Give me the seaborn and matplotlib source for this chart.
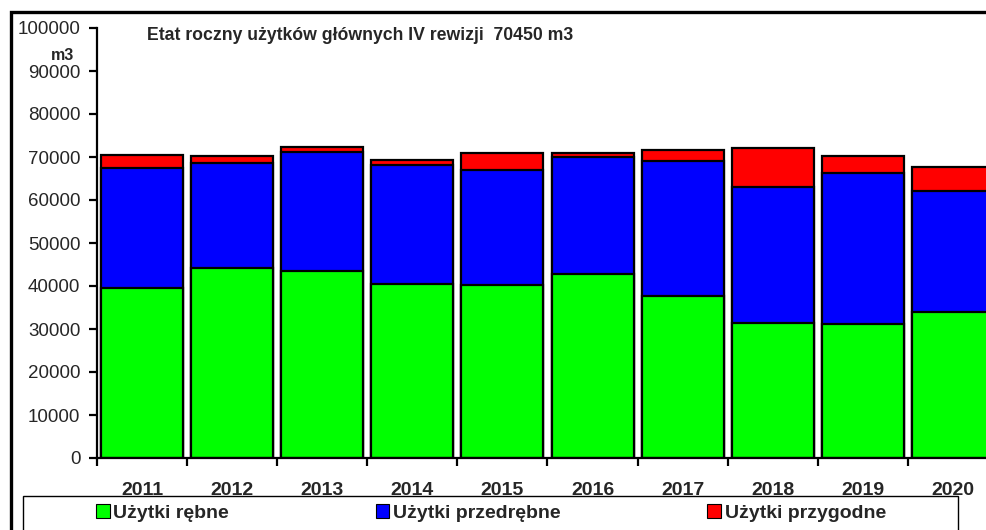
import numpy as np
import pandas as pd
import matplotlib
matplotlib.use("Agg")
import matplotlib.pyplot as plt
import seaborn as sns
from matplotlib.patches import Patch, Rectangle

# Annual harvest volumes (m3) per year, split by category
years = ["2011", "2012", "2013", "2014", "2015", "2016", "2017", "2018", "2019", "2020"]
rebne = [39450, 44100, 43550, 40400, 40150, 42700, 37650, 31300, 31150, 34000]
przedrebne = [27900, 24500, 27550, 27800, 26850, 27200, 31400, 31650, 35100, 28000]
przygodne = [3050, 1550, 1150, 1150, 4000, 1100, 2500, 9200, 3950, 5700]
etat = 70450

series_names = ["Użytki rębne", "Użytki przedrębne", "Użytki przygodne"]
colors = ["#00ff00", "#0000ff", "#ff0000"]
y_ticks = list(range(0, 100001, 10000))

sns.set_theme(style="white")
plt.rcParams["font.family"] = ["Liberation Sans", "DejaVu Sans"]

W, H = 987, 530
fig = plt.figure(figsize=(W / 100, H / 100), dpi=100)


def fx(px):
    return px / W


def fy(py):
    return 1 - py / H


ax = fig.add_axes([fx(97), fy(458), 901 / W, 430 / H])

df = pd.DataFrame({"rok": years, "rebne": rebne, "przed": przedrebne, "przyg": przygodne})
df["top_przed"] = df["rebne"] + df["przed"]
df["top_przyg"] = df["top_przed"] + df["przyg"]

# stacked bars: draw cumulative totals back to front
for col, c in [("top_przyg", colors[2]), ("top_przed", colors[1]), ("rebne", colors[0])]:
    sns.barplot(data=df, x="rok", y=col, color=c, saturation=1, width=0.91,
                edgecolor="black", linewidth=1.6, errorbar=None, ax=ax, zorder=2)

ax.set_xlabel("")
ax.set_ylabel("")
ax.set_ylim(0, 100000)
ax.set_xlim(-0.5, len(years) - 0.5)
ax.set_yticks(y_ticks)
ax.set_yticklabels([str(v) for v in y_ticks], fontsize=13.5)
ax.tick_params(axis="y", direction="out", length=6, width=1.6, color="black", pad=6, left=True)

# boundary ticks between categories, labels at category centres
ax.set_xticks(np.arange(-0.5, len(years), 1.0))
ax.set_xticklabels([""] * (len(years) + 1))
ax.set_xticks(np.arange(len(years)), minor=True)
ax.set_xticklabels(years, minor=True, fontsize=14, fontweight="bold")
ax.tick_params(axis="x", which="major", direction="out", length=6, width=1.6, color="black", bottom=True)
ax.tick_params(axis="x", which="minor", length=0, pad=17.5)

for side in ["top", "right"]:
    ax.spines[side].set_visible(False)
for side in ["left", "bottom"]:
    ax.spines[side].set_color("black")
    ax.spines[side].set_linewidth(1.6)

fig.text(fx(63), fy(56), "m3", ha="center", va="center", fontsize=11.5, fontweight="bold")
fig.text(fx(147), fy(35), f"Etat roczny użytków głównych IV rewizji  {etat} m3",
         ha="left", va="center", fontsize=12.7, fontweight="bold")

# outer chart frame
fig.patches.append(Rectangle((fx(11), fy(560)), (1020 - 11) / W, fy(12) - fy(560),
                             transform=fig.transFigure, fill=False, edgecolor="black",
                             linewidth=2.4, zorder=1))
# legend box
fig.patches.append(Rectangle((fx(23), fy(560)), (958 - 23) / W, fy(496) - fy(560),
                             transform=fig.transFigure, facecolor="white", edgecolor="black",
                             linewidth=1.0, zorder=2))

handles = [Patch(facecolor=c, edgecolor="black", linewidth=0.8) for c in colors]
fig.legend(handles, series_names, loc="center", ncol=3, mode="expand",
           bbox_to_anchor=(fx(96), fy(524), (886 - 96) / W, fy(502) - fy(524)),
           frameon=False, prop={"weight": "bold", "size": 14},
           handlelength=0.7, handleheight=0.7, handletextpad=0.2,
           borderpad=0, borderaxespad=0)

fig.savefig("out.png", dpi=100)
